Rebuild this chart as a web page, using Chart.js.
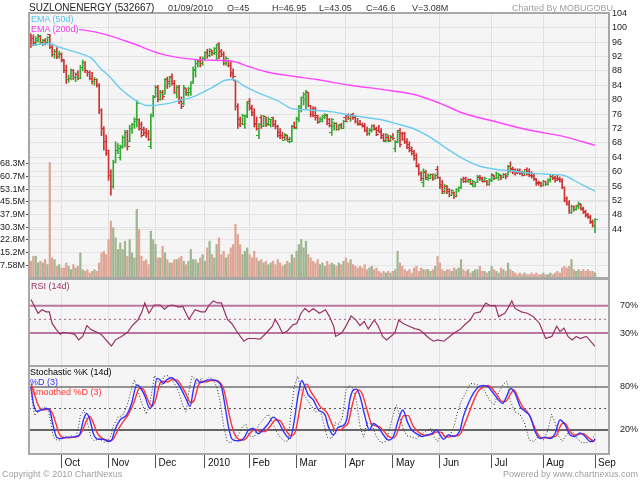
<!DOCTYPE html>
<html><head><meta charset="utf-8">
<script src="https://cdn.jsdelivr.net/npm/chart.js"></script>
<style>
html,body{margin:0;padding:0;background:#fff;}
#wrap{position:relative;width:640px;height:480px;overflow:hidden;font-family:Arial,"Liberation Sans",Helvetica,sans-serif;}
canvas{position:absolute;left:0;top:0;}
.t{position:absolute;white-space:nowrap;font-size:9px;line-height:10px;color:#333;}
</style></head><body>
<div id="wrap">
<canvas id="c1" width="640" height="480"></canvas>
<canvas id="c2" width="640" height="480"></canvas>
<canvas id="c3" width="640" height="480"></canvas>
<div class="t" style="left:29px;top:2px;font-size:10px;line-height:12px;color:#222">SUZLONENERGY (532667)</div>
<div class="t" style="left:168px;top:3px">01/09/2010</div>
<div class="t" style="left:227px;top:3px">O=45</div>
<div class="t" style="left:272px;top:3px">H=46.95</div>
<div class="t" style="left:319px;top:3px">L=43.05</div>
<div class="t" style="left:366px;top:3px">C=46.6</div>
<div class="t" style="left:412px;top:3px">V=3.08M</div>
<div class="t" style="right:27px;top:3px;color:#A0A0A0">Charted By MOBUGOBU</div>
<div class="t" style="left:31px;top:14px;color:#55C3EE;background:#F5F5F5">EMA (50d)</div>
<div class="t" style="left:31px;top:24px;color:#F03CF0;background:#F5F5F5">EMA (200d)</div>
<div class="t" style="left:31px;top:281px;color:#993366">RSI (14d)</div>
<div class="t" style="left:30px;top:367px;color:#000">Stochastic %K (14d)</div>
<div class="t" style="left:30px;top:377px;color:#3333FF">%D (3)</div>
<div class="t" style="left:30px;top:387px;color:#FF3333">Smoothed %D (3)</div>
<div class="t" style="left:2px;top:469px;color:#A0A0A0">Copyright © 2010 ChartNexus</div>
<div class="t" style="right:2px;top:469px;color:#A0A0A0">Powered by www.chartnexus.com</div>
</div>
<script>
// ---------- DATA (bar index 0 = mid Sep 2009 ... 240 = 01/09/2010) ----------
const openP = [97.5,97.0,95.5,96.5,97.5,96.0,96.5,95.8,98.0,94.6,
92.5,93.5,92.0,92.5,91.0,88.0,85.5,86.0,88.0,86.2,
87.0,86.0,89.0,90.2,88.0,87.5,86.0,85.0,85.6,84.0,
77.0,72.0,68.5,65.0,59.0,56.0,62.5,66.0,64.0,67.0,
69.5,71.0,68.5,72.0,73.0,74.0,74.5,73.0,71.8,71.0,
70.5,67.0,75.5,81.0,83.5,80.0,82.0,81.5,85.5,84.5,
86.5,84.5,82.0,83.5,79.5,79.0,83.0,81.5,82.0,85.0,
88.0,90.0,90.5,90.0,91.5,93.0,92.2,93.5,92.8,93.0,
95.5,93.5,92.5,90.0,91.0,89.5,87.5,85.4,78.0,74.5,
73.5,73.0,75.5,79.5,77.8,76.5,73.5,70.0,75.0,72.5,
75.2,73.5,73.0,75.0,73.0,72.5,71.0,70.0,68.8,70.0,
68.5,68.5,72.5,72.0,74.5,77.5,80.5,80.0,82.0,78.4,
77.0,77.5,75.5,74.0,74.0,75.0,75.5,74.5,71.0,72.5,
73.5,71.8,73.0,72.0,75.0,75.5,74.8,75.8,75.0,74.0,
73.5,73.0,72.8,71.5,70.5,71.5,72.8,72.0,71.5,71.0,
70.0,68.5,69.5,68.5,69.5,66.5,68.0,71.5,70.5,70.5,
68.5,67.5,66.5,65.5,64.5,61.5,59.5,57.0,59.8,57.8,
58.2,59.2,58.0,60.5,58.5,56.5,54.0,56.0,55.0,53.5,
54.2,53.0,55.0,55.5,57.8,58.0,57.3,57.8,56.5,56.0,
57.0,58.5,58.5,57.5,57.2,56.5,57.5,59.0,58.0,58.5,
59.0,58.5,59.3,59.0,61.5,61.0,60.5,60.0,60.2,59.8,
59.6,60.5,60.0,59.5,59.0,58.0,57.0,57.0,56.2,57.3,
56.5,57.6,58.8,58.5,58.2,58.0,57.8,55.6,52.5,51.5,
48.8,50.3,49.4,50.2,51.0,49.8,49.0,48.2,47.6,46.2,
45.0];
const highP = [98.4,98.0,97.5,98.4,97.8,96.8,97.0,97.5,98.8,95.2,
94.0,94.5,93.5,93.0,91.2,89.6,86.8,88.6,88.4,87.5,
88.0,89.5,91.0,90.6,88.2,88.0,87.6,86.2,85.8,84.5,
77.5,72.5,70.2,66.0,60.5,63.2,68.3,67.8,67.4,70.0,
71.5,71.5,72.9,73.4,75.0,79.8,74.7,73.8,72.4,72.0,
71.5,76.1,81.2,84.0,84.0,82.6,82.6,85.9,86.3,86.5,
87.2,85.4,84.0,84.0,80.8,84.0,83.1,83.5,84.9,89.1,
91.0,91.0,91.9,91.9,93.3,94.0,94.2,93.7,94.5,95.4,
95.8,94.0,93.3,92.0,91.0,90.5,88.6,85.4,78.9,75.2,
76.0,75.7,79.4,80.3,78.5,77.5,75.2,73.4,75.7,75.7,
75.2,75.2,74.7,75.2,74.3,72.9,72.0,71.0,70.6,70.2,
69.6,72.9,73.8,75.2,78.4,80.8,82.0,82.6,82.0,78.4,
78.0,78.0,75.7,75.2,75.7,76.1,75.9,74.8,74.8,73.8,
73.6,73.0,73.4,74.3,75.7,76.1,76.0,76.2,75.5,74.8,
74.3,73.5,73.4,72.4,72.0,73.0,73.0,72.4,72.9,72.0,
70.6,70.6,70.2,70.1,70.6,68.7,71.5,72.0,71.0,71.0,
69.2,68.3,66.9,65.9,65.0,62.2,60.0,60.8,60.4,59.4,
59.4,59.4,59.4,61.5,58.5,57.6,56.5,56.2,55.3,55.0,
54.4,55.3,55.8,58.1,58.5,58.5,58.0,58.0,57.6,57.1,
59.0,59.0,58.5,58.5,57.6,58.0,59.5,59.0,59.9,59.5,
59.0,59.5,59.5,61.8,62.7,61.3,60.8,60.8,60.8,60.2,
60.4,61.1,60.8,60.0,59.5,58.1,57.4,57.1,57.6,57.4,
58.0,59.0,59.0,58.8,59.0,58.5,58.1,55.8,53.0,52.0,
50.7,50.5,50.7,51.6,51.0,50.2,49.3,48.4,47.9,46.6,
46.95];
const lowP = [94.5,95.0,95.0,96.0,95.5,95.0,95.2,95.5,94.2,92.0,
91.5,91.4,91.5,90.5,87.5,84.5,84.8,85.5,85.6,85.0,
85.5,85.8,88.0,87.5,86.5,85.5,84.3,84.0,83.5,76.1,
70.0,66.0,64.5,57.6,53.5,55.4,62.5,65.0,63.2,66.5,
66.9,66.0,68.3,70.6,72.0,72.4,71.5,69.6,70.1,69.5,
68.7,66.4,75.2,80.8,79.4,79.8,80.0,81.5,83.1,83.5,
84.0,81.7,80.5,78.9,77.5,78.5,81.2,81.0,81.2,84.5,
86.3,89.1,89.1,89.5,91.0,91.5,91.9,92.3,92.5,91.0,
91.4,92.0,89.6,89.5,89.1,86.3,85.9,77.1,72.0,72.5,
73.0,72.0,75.0,77.1,75.5,72.4,71.5,69.2,72.0,72.5,
72.5,72.8,72.4,72.5,71.9,69.6,69.2,69.0,68.7,68.7,
68.0,68.3,71.9,71.9,73.8,76.6,78.5,77.5,78.0,75.2,
75.2,74.3,73.4,73.8,73.8,74.7,73.0,72.4,70.1,71.5,
71.5,71.5,71.9,72.0,73.8,74.5,74.0,74.5,73.5,72.9,
72.9,72.4,71.1,70.1,70.1,71.0,71.5,70.0,71.0,69.2,
68.5,68.3,68.3,68.4,68.8,65.5,68.0,66.9,68.7,67.8,
66.4,65.5,64.6,63.2,61.3,59.0,57.5,55.8,57.8,57.6,
58.0,57.6,57.9,58.1,55.3,53.9,54.0,53.9,53.0,53.5,
52.5,53.0,54.4,55.3,57.0,57.0,57.0,56.5,55.8,55.8,
57.0,57.6,57.1,57.1,56.2,56.2,57.2,57.8,58.0,57.6,
57.8,58.4,58.0,59.0,59.9,59.4,59.0,59.4,59.2,58.8,
59.0,59.0,58.6,58.2,57.6,56.2,56.2,55.8,56.0,56.2,
56.3,57.1,57.8,57.1,57.6,57.1,55.3,51.6,50.7,48.4,
48.4,49.0,49.3,49.7,49.3,48.4,47.4,47.0,45.6,44.6,
43.05];
const closeP = [95.0,96.0,97.0,97.8,96.0,96.5,95.8,97.2,94.6,92.5,
93.5,92.0,92.8,91.2,88.0,85.5,86.0,88.0,86.2,87.0,
86.0,89.0,90.2,88.0,87.5,86.0,85.0,85.6,84.0,77.0,
72.0,68.5,66.0,59.0,56.0,62.5,66.0,66.5,66.8,69.5,
70.8,67.0,72.0,73.0,74.5,79.0,72.0,70.0,71.0,70.5,
69.0,75.5,80.5,83.5,80.0,82.0,81.0,85.5,85.0,86.2,
84.5,82.0,83.5,79.5,78.0,83.5,82.0,83.0,84.5,88.5,
90.0,90.5,90.0,91.5,93.0,92.2,94.0,92.8,94.2,95.0,
92.0,92.5,90.0,91.5,89.5,87.0,86.5,78.0,73.0,73.5,
75.5,75.2,79.0,77.5,76.0,73.0,72.0,73.0,72.5,75.2,
73.0,74.5,74.5,73.0,72.5,70.0,70.0,69.6,70.2,69.0,
69.3,72.5,72.2,74.8,78.0,80.5,81.5,82.2,78.5,76.0,
75.5,75.0,73.8,74.5,75.5,76.0,73.5,72.8,74.5,73.5,
71.8,72.8,72.0,74.0,74.0,74.8,75.8,75.0,74.0,73.2,
73.0,72.6,71.5,70.5,71.8,72.8,71.8,70.4,71.3,69.5,
68.8,70.2,68.8,69.8,69.2,68.3,71.0,67.5,69.0,68.2,
66.8,66.0,65.0,63.6,61.8,59.5,58.0,60.0,58.5,59.0,
59.2,58.0,59.0,58.5,55.8,54.5,56.0,54.5,53.5,54.8,
53.0,55.0,55.6,57.8,57.2,57.3,57.6,56.8,57.3,56.9,
58.8,58.2,57.4,58.0,56.5,57.8,59.2,58.0,59.5,59.2,
58.5,59.3,58.8,61.5,60.5,60.0,59.5,59.8,59.4,59.0,
59.8,59.3,59.0,58.6,57.9,56.6,56.8,56.2,57.3,56.5,
57.8,58.8,58.0,57.5,57.8,57.4,55.6,52.0,51.0,48.8,
50.3,49.4,50.5,51.3,49.6,48.8,47.8,47.3,46.0,45.0,
46.6];
// volume in millions
const volumeM = [10,13,13,9,10,9,11,8,69,12,
11,7,8,6,6,9,7,5,8,6,
7,15,5,4,5,3,4,5,4,9,
15,16,14,23,34,30,24,17,21,17,
22,13,23,15,12,41,29,13,10,11,
8,28,23,20,12,12,19,15,11,9,
9,11,11,12,13,10,8,10,17,11,
11,9,12,14,10,18,22,14,12,20,
24,14,16,12,14,18,20,32,26,20,
14,16,18,14,12,16,12,10,11,9,
10,8,9,10,8,11,9,7,8,10,
9,14,12,16,20,23,18,22,14,12,
10,9,11,8,9,7,10,8,9,8,
7,9,8,10,12,9,11,8,7,6,
7,6,8,5,6,7,5,6,4,3,
4,3,4,3,4,5,16,9,7,5,
4,5,3,6,7,4,6,5,5,5,
4,5,7,13,9,5,4,5,5,4,
6,5,6,11,5,4,5,3,4,5,
5,7,4,4,3,4,7,5,4,3,
6,5,4,9,5,4,3,2,3,2,
3,2,2,3,2,3,2,2,3,2,
2,3,2,3,4,3,6,7,6,7,
11,5,4,5,4,5,4,5,4,4,
3.08];
// [bar index, value]
const ema50 = [[0,95.1],[8,95.6],[12,94.6],[21,92.8],[26,91.4],[29,89.1],[33.6,86.3],[38,83.1],[43.4,80.3],[49.4,78.4],[52,78.4],[58,78.9],[63.4,79.8],[69,80.8],[72,81.7],[77.4,83.5],[82.6,85.4],[86,85.6],[90.2,84],[97.4,81.7],[104.7,79.8],[111.1,77.5],[114.5,77.3],[121.7,77],[128.5,76.6],[135.7,75.7],[143,75],[148.5,74.5],[155.7,73.3],[162.6,72],[169.8,69.6],[177,66.4],[183.8,63.6],[191.1,61.5],[198.3,60.6],[205.1,60.2],[212.3,59.6],[219.6,59.3],[226.4,59],[233.6,56.7],[240,54.6]];
const ema200 = [[0,100.3],[18.7,99.6],[29.4,98.5],[43.4,95.6],[54.9,92.8],[66.4,91.4],[74.9,91],[84.7,90.8],[93.2,89.1],[100.4,87.7],[111.5,86.5],[121.7,85.6],[135.7,84],[149.8,82.8],[162.6,81.5],[174,79],[183.8,76.3],[198.3,73.8],[212.3,71.5],[226.4,69.8],[240,67.3]];
const rsi14 = [[0,79],[1.2,71],[3,59],[4.7,64],[6.4,61],[7.8,61],[9,44],[10.8,35],[12.5,28],[13.4,31],[16,30],[18.6,28],[20.3,20],[22,25],[23.8,41],[25.5,35],[28.1,31],[29.9,28],[31.6,21],[34.2,11],[36,20],[38.5,25],[41.1,31],[42.9,40],[45.5,49],[47.2,61],[48.4,74],[50.2,59],[52.4,71],[55,71],[56.8,65],[58.5,70],[60.2,71],[62.8,68],[64.6,69],[67.2,50],[69.8,64],[72.4,61],[74.1,61],[75.8,71],[77.6,77],[79.3,74],[81,74],[83.6,50],[85.4,44],[88,30],[90.6,18],[92.3,22],[95,22],[97.5,21],[100.1,30],[102.7,40],[103.9,50],[105.3,42],[107,30],[108.8,32],[111.4,42],[113.1,44],[114.9,59],[116.6,66],[118.3,61],[120.1,66],[122.7,59],[125.3,64],[127,54],[128.8,40],[129.6,25],[132.2,30],[134,40],[136.2,55],[138.3,49],[140,41],[141.8,47],[143.5,36],[146.1,49],[147.8,40],[149.6,25],[151.3,20],[153.1,25],[154.8,30],[156.5,49],[158.3,44],[160.9,40],[163.5,36],[165.2,35],[167,30],[169.5,22],[171.3,18],[173,20],[175.6,18],[178.2,25],[180,30],[182.5,35],[185.1,44],[186.9,49],[188.6,59],[191.2,61],[193.5,74],[195.5,70],[197.6,70],[199,54],[201.6,59],[203.4,69],[204.6,77],[206,66],[208.6,61],[211.2,59],[213.8,54],[216.4,44],[219,22],[221.6,25],[223.7,40],[225.1,32],[226.8,37],[228.5,25],[230.3,20],[232,25],[233.7,22],[236.3,25],[238.1,18],[239.8,11],[240,11]];
const stochK = [[0,80],[0.5,60],[1.5,40],[3,45],[4.5,50],[6,52],[7.5,45],[8.5,30],[9.5,10],[11,6],[12.5,6],[14,12],[16,9],[17.5,12],[19,10],[20,20],[21,40],[22.5,48],[24,30],[25.5,10],[27,5],[29,8],[31,3],[32.5,4],[34,12],[35,25],[37,38],[39,40],[41,55],[43,80],[44,90],[45.5,75],[47,58],[49,42],[50.5,55],[51.5,75],[52.5,96],[54,88],[55.5,80],[56.5,95],[58.5,96],[61,85],[63,72],[64.5,55],[66,45],[67.5,80],[68.5,95],[70,90],[71,82],[72.5,93],[74,88],[75.5,93],[77.5,92],[79,80],[80.5,60],[82,25],[83.5,4],[85,2],[87,8],[88.5,14],[90,25],[91.5,28],[93,12],[95,10],[97,28],[99,35],[101,42],[103,28],[104.5,18],[106,10],[108,4],[109.5,5],[110.5,40],[112,80],[113.5,95],[115,75],[117,65],[119,55],[121,45],[123,48],[124.5,30],[126,10],[128,8],[129.5,30],[131,28],[132.5,38],[134,75],[135.5,82],[137,78],[138.5,60],[140,25],[141.5,10],[143,30],[145,28],[147,10],[149,2],[151,4],[152.5,20],[154,40],[155.5,55],[157,38],[158.5,20],[160,12],[162,10],[164,8],[166,14],[168,18],[170,22],[171.5,10],[173,4],[175,18],[176.5,8],[178.5,14],[180,25],[181.5,45],[183,60],[185,72],[187,85],[189,84],[191,82],[193,75],[195,62],[197,55],[199,72],[201,84],[202.5,88],[204,60],[206,45],[208,42],[210,30],[212,6],[214,4],[216,12],[218,6],[220,20],[221.5,42],[223,30],[224.5,12],[226,4],[228,14],[230,20],[232,10],[234,3],[236,2],[238,4],[240,14]];
const stochD = [[0,80],[1,57],[2.4,46],[4.5,48],[6.7,50],[8.1,46],[9.5,25],[10.9,10],[13,8],[15.2,10],[17.3,10],[19.4,11],[20.9,15],[22.3,34],[23.7,43],[25.1,34],[26.5,15],[28.7,7],[30.8,7],[32.9,4],[34.3,6],[35.7,20],[37.9,34],[40.7,41],[42.8,57],[45,83],[46.4,80],[48.5,67],[50.6,50],[52,60],[53.5,92],[54.9,90],[56.3,85],[57.7,90],[59.9,93],[62,87],[64.1,76],[66.2,62],[67.7,53],[69.1,76],[70.5,91],[71.9,86],[73.3,87],[75.5,90],[77.6,90],[79.7,87],[81.1,80],[82.6,53],[84,25],[85.4,8],[87.5,5],[89.6,6],[91.1,11],[92.5,20],[94.6,22],[96.7,15],[98.9,21],[101,29],[103.1,38],[105.2,32],[107.4,18],[110.2,8],[111.6,25],[113.8,71],[115.2,89],[116.6,80],[118,69],[120.1,62],[122.3,48],[125.1,41],[126.5,25],[128.7,13],[130.8,24],[132.9,26],[134.3,34],[135.8,64],[137.2,76],[138.6,77],[140,67],[142.1,39],[144,20],[145.7,29],[147.8,24],[150,13],[152.1,6],[154.2,11],[156.3,34],[158.2,48],[160.2,31],[162,20],[164.1,15],[166.3,11],[168.4,13],[170.5,15],[172.6,20],[174.1,13],[175.5,7],[177.6,13],[179.7,11],[181.2,13],[182.6,20],[184,39],[186.1,57],[188.2,71],[190.4,80],[192.5,82],[194.6,80],[196.8,71],[198.9,62],[200.7,57],[202.4,67],[204.1,78],[206,71],[208.1,53],[210.2,46],[212.4,39],[214.5,18],[216.6,8],[218.7,10],[220.9,8],[223,15],[225.1,34],[227.3,27],[229.4,13],[231.5,11],[233.6,16],[235.8,11],[237.9,4],[239.3,4],[240,8]];
const stochSD = [[0,85],[1.5,70],[3,55],[5,48],[7.5,49],[9,44],[10.5,30],[12,15],[14,9],[16,9],[18.5,10],[20.5,12],[22,20],[23.5,32],[25,39],[26.5,30],[28,17],[30,9],[32,6],[34,5],[35.5,10],[37,20],[39.5,33],[41.5,42],[44,60],[46,78],[47.5,78],[49.5,64],[51.5,53],[53,62],[55,86],[56.5,88],[58,87],[60,90],[62,90],[64,82],[66,70],[68,58],[69.5,62],[71,80],[72.5,88],[74.5,87],[76.5,89],[78.5,89],[80.5,86],[82,77],[83.5,55],[85,32],[86.5,15],[88.5,7],[90.5,6],[92,10],[93.5,17],[95.5,21],[97.5,18],[99.5,18],[102,26],[104,34],[106,33],[108,22],[110.5,12],[112.5,18],[114.5,52],[116,78],[117.5,84],[119,74],[121,64],[123,53],[126,44],[127.5,33],[129.5,20],[131.5,20],[133.5,25],[135,30],[136.5,52],[138,70],[139.5,76],[141,70],[143,48],[145,28],[146.5,26],[148.5,24],[150.5,17],[152.5,10],[154.5,9],[156.5,22],[158.5,40],[160.5,40],[162.5,26],[164.5,18],[166.5,14],[168.5,12],[170.5,14],[172.5,17],[174.5,17],[176,11],[178,10],[180,12],[181.5,12],[183,16],[184.5,28],[186.5,45],[188.5,62],[190.5,75],[192.5,80],[194.5,82],[196.5,77],[198.5,68],[200.5,60],[202,60],[204,70],[205.5,76],[207.5,63],[209.5,51],[211.5,44],[213.5,30],[215.5,15],[217.5,9],[219.5,9],[221.5,10],[223.5,12],[225.5,27],[227,30],[229,20],[231,13],[233,14],[235,15],[237,10],[238.5,6],[240,5]];
const monthIdx = [13,33,53,74,93,113,134,154,174,196,218,240];
const monthLbl = ['Oct','Nov','Dec','2010','Feb','Mar','Apr','May','Jun','Jul','Aug','Sep'];
const priceTicks = [44,48,52,56,60,64,68,72,76,80,84,88,92,96,100,104];
const volTicks = [7.59,15.18,22.77,30.36,37.95,45.54,53.13,60.72,68.31];
const volTickLbl = ['7.58M','15.2M','22.8M','30.3M','37.9M','45.5M','53.1M','60.7M','68.3M'];
const rsiLevels = [30,70];
const stochLevels = [20,80];

// ---------- CHARTS ----------
const X_MIN = -0.85, X_MAX = 245.95;
Chart.defaults.font.family = 'Arial, "Liberation Sans", Helvetica, sans-serif';
Chart.defaults.font.size = 9;
Chart.defaults.color = '#222';
Chart.defaults.animation = false;
Chart.defaults.events = [];
Chart.defaults.plugins.legend.display = false;
Chart.defaults.plugins.tooltip.enabled = false;

const panel = {
  id: 'panel',
  beforeDraw(c) { const a = c.chartArea, g = c.ctx; g.save(); g.fillStyle = '#F5F5F5'; g.fillRect(a.left, a.top, a.right - a.left, a.bottom - a.top); g.restore(); },
  afterDraw(c) { const a = c.chartArea, g = c.ctx; g.save(); g.strokeStyle = '#A8A8A8'; g.lineWidth = 2; g.strokeRect(a.left, a.top, a.right - a.left, a.bottom - a.top); g.restore(); }
};

function xAxis(extra) {
  return Object.assign({
    type: 'linear', min: X_MIN, max: X_MAX, offset: false,
    afterBuildTicks: s => { s.ticks = monthIdx.map(v => ({ value: v })); },
    afterFit: s => { s.height = 0; },
    ticks: { display: false },
    grid: { color: '#E2E2E2', drawTicks: false, offset: false },
    border: { display: false }
  }, extra || {});
}
function rightAxis(min, max, vals, fmt) {
  return {
    type: 'linear', position: 'right', min: min, max: max,
    afterBuildTicks: s => { s.ticks = vals.map(v => ({ value: v })); },
    afterFit: s => { s.width = 31; },
    ticks: { autoSkip: false, padding: 3, color: '#222', callback: fmt },
    grid: { display: false }, border: { display: false }
  };
}
function tickImg(color, left) {
  const c = document.createElement('canvas'); c.width = 5; c.height = 1;
  const g = c.getContext('2d'); g.fillStyle = color; g.fillRect(left ? 0 : 3, 0, 2, 1); return c;
}
const UP = '#33AA33', DN = '#CC3333';
const imgs = { ou: tickImg(UP, true), od: tickImg(DN, true), cu: tickImg(UP, false), cd: tickImg(DN, false) };
const isUp = i => closeP[i] >= openP[i];
const pairs = arr => arr.map(p => ({ x: p[0], y: p[1] }));
const idx = openP.map((_, i) => i);

// Main price + volume panel
new Chart(document.getElementById('c1'), {
  type: 'bar',
  data: { datasets: [
    { type: 'line', data: pairs(ema50), yAxisID: 'y', borderColor: '#6CCBF0', borderWidth: 1.4, pointRadius: 0, cubicInterpolationMode: 'monotone', order: 1 },
    { type: 'line', data: pairs(ema200), yAxisID: 'y', borderColor: '#FF44FF', borderWidth: 1.4, pointRadius: 0, cubicInterpolationMode: 'monotone', order: 1 },
    { type: 'line', data: idx.map(i => ({ x: i, y: openP[i] })), yAxisID: 'y', showLine: false, pointRadius: 1, pointStyle: ctx => isUp(ctx.dataIndex) ? imgs.ou : imgs.od, order: 3 },
    { type: 'line', data: idx.map(i => ({ x: i, y: closeP[i] })), yAxisID: 'y', showLine: false, pointRadius: 1, pointStyle: ctx => isUp(ctx.dataIndex) ? imgs.cu : imgs.cd, order: 3 },
    { type: 'bar', data: idx.map(i => ({ x: i, y: [lowP[i], highP[i]] })), yAxisID: 'y', grouped: false, barThickness: 1, borderWidth: 0, backgroundColor: ctx => isUp(ctx.dataIndex) ? UP : DN, order: 4 },
    { type: 'bar', data: idx.map(i => ({ x: i, y: volumeM[i] })), yAxisID: 'yv', grouped: false, barThickness: 1.6, borderWidth: 0, backgroundColor: ctx => isUp(ctx.dataIndex) ? '#A2B592' : '#DEA696', order: 10 }
  ] },
  options: {
    responsive: false,
    layout: { padding: { top: 13, bottom: 202, left: 0, right: 0 } },
    scales: {
      x: xAxis(),
      y: Object.assign(rightAxis(30.47, 104.08, priceTicks, v => String(v)), { grid: { color: '#E2E2E2', drawTicks: false } }),
      yv: {
        type: 'linear', position: 'left', min: 0, max: 158.4,
        afterBuildTicks: s => { s.ticks = volTicks.map(v => ({ value: v })); },
        afterFit: s => { s.width = 29; },
        ticks: { autoSkip: false, padding: 1, color: '#222', callback: (v, i) => volTickLbl[i] },
        grid: { color: '#E6E6E6', drawOnChartArea: true, tickLength: 3, tickColor: '#444' },
        border: { display: false }
      }
    }
  },
  plugins: [panel]
});

// RSI panel
const hline = (y, color, w, dash) => ({ data: [{ x: X_MIN, y: y }, { x: X_MAX, y: y }], borderColor: color, borderWidth: w, borderDash: dash || [], pointRadius: 0, order: 5 });
new Chart(document.getElementById('c2'), {
  type: 'line',
  data: { datasets: [
    { data: pairs(rsi14), borderColor: '#993366', borderWidth: 1.2, pointRadius: 0, order: 1 },
    hline(70, '#B9769F', 2), hline(30, '#B9769F', 2), hline(50, '#B05A8C', 1, [2, 3])
  ] },
  options: {
    responsive: false,
    layout: { padding: { top: 279, bottom: 114, left: 29, right: 0 } },
    scales: { x: xAxis(), y: rightAxis(-18.3, 109.1, rsiLevels, v => v + '%') }
  },
  plugins: [panel]
});

// Stochastic panel
new Chart(document.getElementById('c3'), {
  type: 'line',
  data: { datasets: [
    { data: pairs(stochK), borderColor: '#333', borderWidth: 1, borderDash: [1, 2], pointRadius: 0, order: 3 },
    { data: pairs(stochSD), borderColor: '#FF3333', borderWidth: 1.4, pointRadius: 0, cubicInterpolationMode: 'monotone', order: 2 },
    { data: pairs(stochD), borderColor: '#3333FF', borderWidth: 1.4, pointRadius: 0, cubicInterpolationMode: 'monotone', order: 1 },
    hline(80, '#333', 1.2), hline(20, '#666', 2), hline(50, '#555', 1, [2, 3])
  ] },
  options: {
    responsive: false,
    layout: { padding: { top: 366, bottom: 10, left: 29, right: 0 } },
    scales: {
      x: xAxis({
        afterFit: s => { s.height = 16; },
        ticks: { display: true, autoSkip: false, maxRotation: 0, align: 'start', labelOffset: 3, padding: -11, color: '#111', font: { size: 10 }, callback: (v, i) => monthLbl[i] },
        grid: { color: '#E2E2E2', drawTicks: true, tickLength: 14, tickColor: '#555', offset: false }
      }),
      y: rightAxis(-13.5, 109.3, stochLevels, v => v + '%')
    }
  },
  plugins: [panel]
});
</script>
</body></html>
